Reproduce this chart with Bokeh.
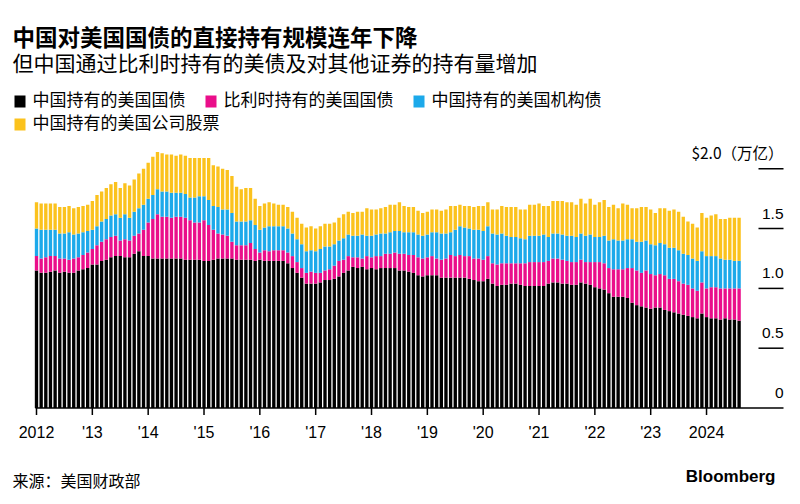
import pandas as pd
from bokeh.plotting import figure
from bokeh.models import Range1d, ColumnDataSource
from bokeh.core.properties import value
from bokeh.embed import file_html
from bokeh.resources import INLINE

# ---------------- data (US$ trillions, monthly Jan 2012 - Aug 2024) ----------------
months = pd.date_range("2012-01-01", "2024-08-01", freq="MS")

china_treasuries = [
    1.15, 1.13, 1.13, 1.14, 1.15, 1.13, 1.14, 1.13, 1.13, 1.15, 1.16, 1.17,
    1.20, 1.20, 1.23, 1.24, 1.26, 1.27, 1.27, 1.26, 1.26, 1.29, 1.31, 1.27,
    1.27, 1.25, 1.25, 1.25, 1.25, 1.25, 1.25, 1.25, 1.24, 1.24, 1.24, 1.24,
    1.23, 1.23, 1.24, 1.25, 1.25, 1.25, 1.25, 1.24, 1.24, 1.24, 1.24, 1.23,
    1.24, 1.23, 1.23, 1.23, 1.23, 1.23, 1.21, 1.17, 1.13, 1.09, 1.04, 1.04,
    1.04, 1.05, 1.07, 1.07, 1.08, 1.10, 1.13, 1.15, 1.18, 1.17, 1.18, 1.16,
    1.17, 1.16, 1.17, 1.17, 1.17, 1.17, 1.15, 1.15, 1.14, 1.13, 1.11, 1.10,
    1.11, 1.11, 1.11, 1.09, 1.09, 1.09, 1.09, 1.09, 1.09, 1.08, 1.07, 1.06,
    1.06, 1.08, 1.04, 1.02, 1.03, 1.03, 1.04, 1.04, 1.03, 1.02, 1.02, 1.02,
    1.02, 1.02, 1.04, 1.05, 1.05, 1.04, 1.04, 1.03, 1.03, 1.05, 1.04, 1.03,
    1.01, 1.00, 0.99, 0.96, 0.93, 0.93, 0.93, 0.92, 0.88, 0.86, 0.85, 0.84,
    0.83, 0.84, 0.84, 0.82, 0.81, 0.80, 0.79, 0.78, 0.77, 0.76, 0.75, 0.79,
    0.76, 0.75, 0.75, 0.74, 0.75, 0.74, 0.74, 0.73,
]
belgium_treasuries = [
    0.12, 0.12, 0.13, 0.13, 0.12, 0.12, 0.11, 0.11, 0.12, 0.11, 0.12, 0.13,
    0.13, 0.16, 0.16, 0.17, 0.17, 0.17, 0.13, 0.15, 0.14, 0.15, 0.15, 0.22,
    0.28, 0.33, 0.37, 0.35, 0.35, 0.34, 0.35, 0.35, 0.35, 0.33, 0.31, 0.31,
    0.34, 0.30, 0.25, 0.21, 0.20, 0.19, 0.14, 0.12, 0.12, 0.12, 0.14, 0.10,
    0.06, 0.09, 0.08, 0.09, 0.09, 0.09, 0.09, 0.10, 0.09, 0.08, 0.09, 0.10,
    0.09, 0.08, 0.08, 0.09, 0.11, 0.13, 0.11, 0.12, 0.08, 0.09, 0.07, 0.11,
    0.09, 0.11, 0.10, 0.12, 0.12, 0.13, 0.14, 0.14, 0.14, 0.15, 0.15, 0.15,
    0.15, 0.16, 0.14, 0.15, 0.16, 0.19, 0.18, 0.19, 0.18, 0.19, 0.18, 0.19,
    0.18, 0.19, 0.17, 0.18, 0.18, 0.18, 0.17, 0.17, 0.18, 0.19, 0.20, 0.20,
    0.20, 0.20, 0.19, 0.20, 0.20, 0.20, 0.19, 0.19, 0.19, 0.19, 0.18, 0.19,
    0.21, 0.22, 0.22, 0.21, 0.23, 0.23, 0.23, 0.25, 0.29, 0.29, 0.28, 0.31,
    0.29, 0.27, 0.28, 0.29, 0.27, 0.28, 0.27, 0.26, 0.26, 0.24, 0.23, 0.26,
    0.24, 0.26, 0.26, 0.26, 0.25, 0.26, 0.26, 0.27,
]
china_agency = [
    0.23, 0.24, 0.23, 0.22, 0.22, 0.21, 0.21, 0.23, 0.20, 0.20, 0.19, 0.18,
    0.16, 0.16, 0.17, 0.17, 0.18, 0.18, 0.19, 0.21, 0.19, 0.20, 0.21, 0.21,
    0.20, 0.20, 0.21, 0.21, 0.21, 0.21, 0.20, 0.20, 0.20, 0.19, 0.21, 0.22,
    0.20, 0.21, 0.20, 0.22, 0.21, 0.22, 0.24, 0.20, 0.20, 0.20, 0.19, 0.20,
    0.19, 0.19, 0.21, 0.20, 0.20, 0.20, 0.20, 0.19, 0.19, 0.20, 0.18, 0.18,
    0.18, 0.20, 0.20, 0.19, 0.18, 0.17, 0.18, 0.18, 0.18, 0.18, 0.20, 0.17,
    0.18, 0.18, 0.19, 0.17, 0.18, 0.18, 0.19, 0.18, 0.19, 0.19, 0.19, 0.19,
    0.19, 0.20, 0.22, 0.22, 0.21, 0.19, 0.22, 0.24, 0.24, 0.23, 0.24, 0.24,
    0.24, 0.25, 0.25, 0.25, 0.25, 0.23, 0.22, 0.22, 0.21, 0.20, 0.22, 0.22,
    0.22, 0.23, 0.20, 0.21, 0.21, 0.21, 0.21, 0.22, 0.21, 0.22, 0.22, 0.23,
    0.21, 0.21, 0.23, 0.23, 0.25, 0.24, 0.24, 0.24, 0.24, 0.24, 0.26, 0.25,
    0.25, 0.25, 0.26, 0.26, 0.26, 0.26, 0.26, 0.25, 0.25, 0.25, 0.25, 0.26,
    0.27, 0.26, 0.26, 0.25, 0.24, 0.24, 0.23, 0.23,
]
china_equities = [
    0.22, 0.22, 0.22, 0.22, 0.22, 0.22, 0.22, 0.22, 0.22, 0.22, 0.22, 0.22,
    0.24, 0.26, 0.25, 0.26, 0.26, 0.27, 0.25, 0.26, 0.27, 0.27, 0.29, 0.30,
    0.30, 0.32, 0.31, 0.32, 0.31, 0.32, 0.31, 0.32, 0.32, 0.33, 0.33, 0.32,
    0.32, 0.35, 0.34, 0.34, 0.34, 0.33, 0.31, 0.29, 0.27, 0.28, 0.27, 0.22,
    0.20, 0.20, 0.20, 0.19, 0.18, 0.18, 0.18, 0.18, 0.18, 0.17, 0.20, 0.20,
    0.19, 0.19, 0.19, 0.19, 0.18, 0.19, 0.20, 0.19, 0.19, 0.20, 0.19, 0.23,
    0.22, 0.21, 0.21, 0.22, 0.23, 0.22, 0.24, 0.22, 0.21, 0.21, 0.20, 0.19,
    0.19, 0.19, 0.19, 0.19, 0.20, 0.22, 0.20, 0.18, 0.18, 0.19, 0.19, 0.20,
    0.21, 0.20, 0.20, 0.21, 0.23, 0.24, 0.25, 0.25, 0.24, 0.25, 0.26, 0.26,
    0.27, 0.24, 0.26, 0.27, 0.27, 0.28, 0.28, 0.28, 0.27, 0.29, 0.27, 0.30,
    0.27, 0.29, 0.30, 0.28, 0.29, 0.27, 0.31, 0.29, 0.26, 0.28, 0.29, 0.28,
    0.29, 0.27, 0.29, 0.30, 0.31, 0.32, 0.32, 0.31, 0.28, 0.29, 0.28, 0.32,
    0.32, 0.34, 0.35, 0.33, 0.34, 0.35, 0.36, 0.36,
]

series_names = ["中国持有的美国国债", "比利时持有的美国国债", "中国持有的美国机构债", "中国持有的美国公司股票"]
series_colors = ["#000000", "#EA0E8A", "#1CA9EA", "#FBC21D"]

year_ticks = list(range(2012, 2025))
year_labels = ["2012", "'13", "'14", "'15", "'16", "'17", "'18", "'19", "'20", "'21", "'22", "'23", "2024"]
y_ticks = [0, 0.5, 1.0, 1.5, 2.0]
y_labels = ["0", "0.5", "1.0", "1.5", "$2.0（万亿）"]

title = "中国对美国国债的直接持有规模连年下降"
subtitle = "但中国通过比利时持有的美债及对其他证券的持有量增加"
source_note = "来源：美国财政部"
brand = "Bloomberg"

# ---------------- layout constants (canvas pixels) ----------------
W, H = 784, 500
PPM = 4.653     # pixels per month
X0 = 36.0       # canvas x of Jan 2012
PPT = 119.6     # pixels per trillion
Y0 = 407.5      # canvas y of zero

def dx(px):
    return (px - X0) / PPM

def dy(py):
    return (Y0 - py) / PPT

CJK = value("Noto Sans CJK SC")
LAT = value("Liberation Sans")

p = figure(width=W, height=H, output_backend="svg", toolbar_location=None,
           x_range=Range1d(dx(0), dx(W)), y_range=Range1d(dy(H), dy(0)),
           x_axis_location=None, y_axis_location=None, min_border=0)
p.min_border_left = p.min_border_right = p.min_border_top = p.min_border_bottom = 0
p.xgrid.visible = False
p.ygrid.visible = False
p.outline_line_color = None
p.background_fill_color = "white"
p.border_fill_color = "white"

# ---------------- bars ----------------
xpos = [(d.year - 2012) * 12 + (d.month - 1) for d in months]
src = ColumnDataSource(dict(x=xpos, s0=china_treasuries, s1=belgium_treasuries,
                            s2=china_agency, s3=china_equities))
p.vbar_stack(["s0", "s1", "s2", "s3"], x="x", width=0.72, source=src,
             fill_color=series_colors, line_color=None)

# ---------------- x axis ----------------
p.segment(x0=[dx(35)], y0=[0], x1=[dx(783)], y1=[0], line_color="black", line_width=1.5)
tick_x = [(y - 2012) * 12 for y in year_ticks]
p.segment(x0=tick_x, y0=[0] * len(tick_x), x1=tick_x, y1=[dy(Y0 + 7)] * len(tick_x),
          line_color="black", line_width=1.5)
p.text(x=tick_x, y=[dy(Y0 + 24)] * len(tick_x), text=year_labels, text_align="center",
       text_baseline="middle", text_font=LAT, text_font_size="16px", text_color="black")

# ---------------- y axis (right) ----------------
yt = y_ticks[1:]
p.segment(x0=[dx(758)] * len(yt), y0=yt, x1=[dx(783)] * len(yt), y1=yt,
          line_color="black", line_width=1.5)
p.text(x=[dx(783)] * (len(y_ticks) - 1), y=y_ticks[:-1], text=y_labels[:-1], y_offset=-15,
       text_align="right", text_baseline="middle", text_font=LAT, text_font_size="15.5px",
       text_color="black")
p.text(x=[dx(783)], y=[y_ticks[-1]], text=[y_labels[-1]], y_offset=-17,
       text_align="right", text_baseline="middle", text_font=CJK, text_font_size="15.5px",
       text_color="black")

# ---------------- header ----------------
p.text(x=[dx(12)], y=[dy(35)], text=[title], text_baseline="middle", text_font=CJK,
       text_font_style="bold", text_font_size="22.5px", text_color="black")
p.text(x=[dx(12)], y=[dy(61)], text=[subtitle], text_baseline="middle", text_font=CJK,
       text_font_size="21px", text_color="black")

# ---------------- legend ----------------
LEG_FS = 17
rows = [[0, 1, 2], [3]]
row_y = [98, 121]
for r, idxs in enumerate(rows):
    sx = 14
    cy = row_y[r]
    for i in idxs:
        p.quad(left=[dx(sx)], right=[dx(sx + 11)], top=[dy(cy - 3)], bottom=[dy(cy + 9)],
               fill_color=series_colors[i], line_color=None)
        tx = sx + 18
        p.text(x=[dx(tx)], y=[dy(cy)], text=[series_names[i]], text_baseline="middle",
               text_font=CJK, text_font_size=f"{LEG_FS}px", text_color="black")
        sx = tx + len(series_names[i]) * LEG_FS + 20

# ---------------- footer ----------------
p.text(x=[dx(12)], y=[dy(479)], text=[source_note], text_baseline="middle", text_font=CJK,
       text_font_size="16px", text_color="black")
p.text(x=[dx(775)], y=[dy(476)], text=[brand], text_align="right", text_baseline="middle",
       text_font=LAT, text_font_style="bold", text_font_size="17px", text_color="black")

open("out.html", "w").write(file_html(p, INLINE))
